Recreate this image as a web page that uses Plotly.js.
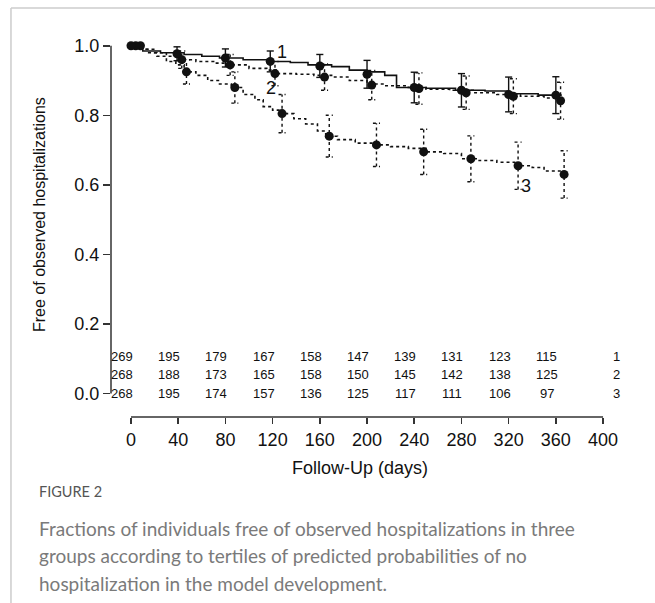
<!DOCTYPE html>
<html>
<head>
<meta charset="utf-8">
<script src="https://cdn.plot.ly/plotly-3.0.1.min.js"></script>
<style>
html,body{margin:0;padding:0;background:#fff;}
#chart{width:655px;height:603px;}
</style>
</head>
<body>
<div id="chart"></div>
<script>
// ---- Kaplan-Meier step curves (days, fraction free of hospitalization) ----
var c1Times = [0, 10, 25, 45, 60, 75, 95, 115, 135, 150, 170, 185, 200, 215, 225, 250, 275, 300, 320, 345, 365];
var c1Surv  = [1.0, 0.985, 0.98, 0.975, 0.97, 0.965, 0.96, 0.955, 0.952, 0.945, 0.94, 0.93, 0.925, 0.915, 0.88, 0.878, 0.872, 0.87, 0.862, 0.858, 0.858];

var c2Times = [0, 10, 20, 30, 42, 55, 70, 82, 100, 115, 123, 140, 155, 170, 185, 200, 215, 235, 250, 270, 290, 310, 330, 350, 366];
var c2Surv  = [1.0, 0.99, 0.98, 0.97, 0.96, 0.955, 0.95, 0.945, 0.935, 0.93, 0.92, 0.918, 0.915, 0.91, 0.9, 0.89, 0.885, 0.88, 0.875, 0.872, 0.865, 0.86, 0.855, 0.85, 0.84];

var c3Times = [0, 8, 15, 22, 30, 38, 45, 55, 65, 75, 85, 95, 105, 112, 120, 128, 138, 148, 158, 165, 175, 190, 205, 220, 235, 250, 265, 280, 295, 310, 325, 340, 350, 366];
var c3Surv  = [1.0, 0.99, 0.98, 0.97, 0.955, 0.945, 0.925, 0.915, 0.9, 0.89, 0.88, 0.86, 0.845, 0.825, 0.815, 0.805, 0.79, 0.775, 0.755, 0.74, 0.73, 0.72, 0.715, 0.71, 0.705, 0.695, 0.69, 0.675, 0.67, 0.665, 0.655, 0.65, 0.64, 0.63];

// ---- marked estimates with confidence intervals ----
var m1Times = [0, 39, 80, 118, 160, 200, 240, 280, 320, 360];
var m1Surv  = [1.0, 0.977, 0.965, 0.955, 0.942, 0.918, 0.88, 0.872, 0.86, 0.858];
var m1Err   = [0, 0.02, 0.026, 0.03, 0.033, 0.04, 0.044, 0.048, 0.05, 0.053];

var m2Times = [4, 43, 84, 122, 164, 204, 244, 284, 324, 364];
var m2Surv  = [1.0, 0.96, 0.945, 0.92, 0.91, 0.887, 0.877, 0.865, 0.855, 0.842];
var m2Err   = [0, 0.025, 0.03, 0.035, 0.038, 0.042, 0.045, 0.048, 0.05, 0.053];

var m3Times = [8, 47, 88, 128, 168, 208, 248, 288, 328, 367];
var m3Surv  = [1.0, 0.925, 0.88, 0.805, 0.74, 0.715, 0.695, 0.675, 0.655, 0.63];
var m3Err   = [0, 0.035, 0.045, 0.055, 0.06, 0.062, 0.065, 0.066, 0.068, 0.068];

// ---- number at risk table ----
var riskTimes = [0, 40, 80, 120, 160, 200, 240, 280, 320, 360];
var risk1 = [269, 195, 179, 167, 158, 147, 139, 131, 123, 115];
var risk2 = [268, 188, 173, 165, 158, 150, 145, 142, 138, 125];
var risk3 = [268, 195, 174, 157, 136, 125, 117, 111, 106, 97];
var groupNames = ['1', '2', '3'];

var xTicks = [0, 40, 80, 120, 160, 200, 240, 280, 320, 360, 400];
var yTicks = [0, 0.2, 0.4, 0.6, 0.8, 1.0];

var captionHead = 'FIGURE 2';
var captionLines = [
  'Fractions of individuals free of observed hospitalizations in three',
  'groups according to tertiles of predicted probabilities of no',
  'hospitalization in the model development.'
];

// ---- build traces ----
var BLACK = '#111';
function stepTrace(t, s, dash) {
  return {x: t, y: s, type: 'scatter', mode: 'lines', line: {shape: 'hv', color: BLACK, width: 1.6, dash: dash}, hoverinfo: 'skip', showlegend: false};
}
function errTrace(t, s, e, dash) {
  var xs = [], ys = [], cap = 3;
  for (var i = 0; i < t.length; i++) {
    if (e[i] <= 0) continue;
    var lo = s[i] - e[i], hi = s[i] + e[i];
    xs.push(t[i], t[i], null, t[i] - cap, t[i] + cap, null, t[i] - cap, t[i] + cap, null);
    ys.push(lo, hi, null, hi, hi, null, lo, lo, null);
  }
  return {x: xs, y: ys, type: 'scatter', mode: 'lines', line: {color: BLACK, width: 1.4, dash: dash}, hoverinfo: 'skip', showlegend: false, connectgaps: false};
}
function markTrace(t, s) {
  return {x: t, y: s, type: 'scatter', mode: 'markers', marker: {size: 9, color: BLACK}, hoverinfo: 'skip', showlegend: false};
}

var data = [
  stepTrace(c3Times, c3Surv, 'dot'),
  stepTrace(c2Times, c2Surv, 'dot'),
  stepTrace(c1Times, c1Surv, 'solid'),
  errTrace(m3Times, m3Surv, m3Err, 'dot'),
  errTrace(m2Times, m2Surv, m2Err, 'dot'),
  errTrace(m1Times, m1Surv, m1Err, 'solid'),
  markTrace(m3Times, m3Surv),
  markTrace(m2Times, m2Surv),
  markTrace(m1Times, m1Surv)
];

var annotations = [];
var rowsY = [0.106, 0.055, 0.0];
[risk1, risk2, risk3].forEach(function (row, r) {
  row.forEach(function (n, i) {
    annotations.push({x: riskTimes[i], y: rowsY[r], xref: 'x', yref: 'y', text: String(n), showarrow: false, xshift: -9, font: {size: 13, color: '#111'}});
  });
  annotations.push({x: 0.984, y: rowsY[r], xref: 'paper', yref: 'y', xanchor: 'center', text: groupNames[r], showarrow: false, font: {size: 13, color: '#111'}});
});
// curve labels
annotations.push({x: 128, y: 0.983, text: '1', showarrow: false, font: {size: 18, color: '#111'}});
annotations.push({x: 119, y: 0.879, text: '2', showarrow: false, font: {size: 18, color: '#111'}});
annotations.push({x: 335, y: 0.597, text: '3', showarrow: false, font: {size: 18, color: '#111'}});
// axis titles
annotations.push({xref: 'paper', yref: 'paper', x: 0.484, y: -0.1335, xanchor: 'center', yanchor: 'middle', text: 'Follow-Up (days)', showarrow: false, font: {size: 18, color: '#111'}});
annotations.push({xref: 'paper', yref: 'paper', x: -0.138, y: 0.529, xanchor: 'center', yanchor: 'middle', text: 'Free of observed hospitalizations', textangle: -90, showarrow: false, font: {size: 16, color: '#111'}});
// caption
var capFont = 'Lato, "Open Sans", sans-serif';
annotations.push({xref: 'paper', yref: 'paper', x: -0.144, y: -0.196, xanchor: 'left', yanchor: 'middle', text: captionHead, showarrow: false, font: {family: capFont, size: 14.5, color: '#555'}});
var capY = [-0.2906, -0.3626, -0.4346];
captionLines.forEach(function (ln, i) {
  annotations.push({xref: 'paper', yref: 'paper', x: -0.144, y: capY[i], xanchor: 'left', yanchor: 'middle', text: ln, showarrow: false, font: {family: capFont, size: 19, color: '#7a7a7a'}});
});

var layout = {
  width: 655, height: 603,
  margin: {l: 111, r: 30, t: 35, b: 186},
  paper_bgcolor: '#fff', plot_bgcolor: '#fff',
  font: {family: 'Liberation Sans, Arial, sans-serif', color: '#111'},
  showlegend: false,
  xaxis: {range: [-16.95, 418.6], tickvals: xTicks, ticks: 'outside', ticklen: 6, tickwidth: 1.5, tickcolor: '#333',
          showline: false, zeroline: false, showgrid: false, tickfont: {size: 18}, fixedrange: true},
  yaxis: {range: [-0.0676, 1.031], tickvals: yTicks, tickformat: '.1f', ticks: 'outside', ticklen: 7, tickwidth: 1.5, tickcolor: '#333',
          showline: false, zeroline: false, showgrid: false, tickfont: {size: 18}, fixedrange: true},
  shapes: [
    {type: 'line', xref: 'x', yref: 'paper', x0: 0, x1: 400, y0: 0, y1: 0, line: {color: '#333', width: 1.5}},
    {type: 'line', xref: 'paper', yref: 'y', x0: 0, x1: 0, y0: 0, y1: 1, line: {color: '#333', width: 1.5}},
    // figure frame
    {type: 'line', xref: 'paper', yref: 'paper', x0: -0.1946, x1: 1.1, y0: 1.0707, y1: 1.0707, line: {color: '#ccc', width: 1.5}},
    {type: 'line', xref: 'paper', yref: 'paper', x0: -0.1946, x1: -0.1946, y0: 1.0707, y1: -0.52, line: {color: '#ccc', width: 1.5}}
  ],
  annotations: annotations
};

Plotly.newPlot('chart', data, layout, {displayModeBar: false, staticPlot: true});
</script>
</body>
</html>
